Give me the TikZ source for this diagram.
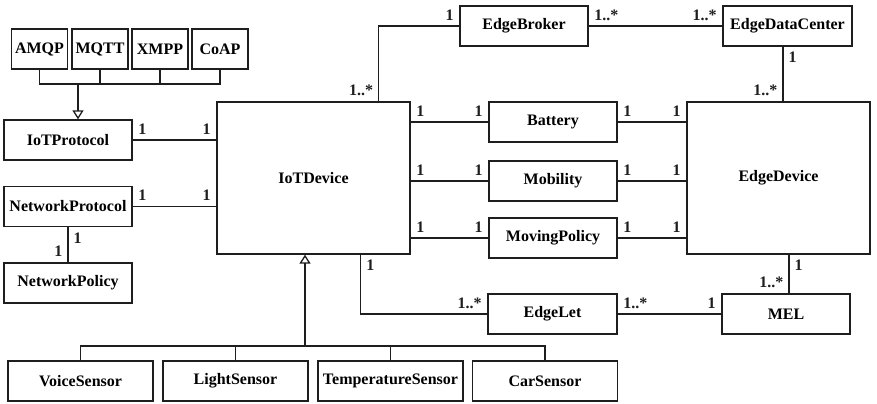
\documentclass[tikz,border=0pt]{standalone}
\usepackage{fontspec}
\setmainfont{Liberation Serif}
\usetikzlibrary{arrows.meta,positioning,calc}
\definecolor{bk90}{HTML}{1E1E1E}
\tikzset{
  classbox/.style={
    rectangle, draw=bk90, fill=white, line width=0.65pt,
    minimum width=#1, minimum height=20pt,
    font=\fontsize{8}{9.6}\selectfont\bfseries, align=center,
    inner sep=0pt
  },
  classbox/.default=64pt,
  assocline/.style={
    draw=bk90, line width=0.65pt
  },
  inheritline/.style={
    draw=bk90, line width=0.65pt,
    -{Triangle[open, length=4.5pt, width=5.5pt]}
  },
  multlabel/.style={
    font=\fontsize{8}{9.6}\selectfont\bfseries, text=bk90,
    inner sep=2.5pt
  },
}
\begin{document}
\begin{tikzpicture}[x=0.5pt, y=-0.5pt]
\useasboundingbox (0,0) rectangle (877,403);

% Protocol classes
\node[classbox=28pt] (amqp) at (39.5,49) {AMQP};
\node[classbox=28pt] (mqtt) at (100,49) {MQTT};
\node[classbox=28pt] (xmpp) at (160,49) {XMPP};
\node[classbox=28pt] (coap) at (220,49) {CoAP};
\node[classbox] (iotprotocol) at (68,140) {IoTProtocol};
\node[classbox] (netprotocol) at (68,206.5) {NetworkProtocol};
\node[classbox] (netpolicy) at (68,283) {NetworkPolicy};

% Devices
\node[classbox=96.5pt, minimum height=76pt] (iotdevice) at (313.5,178) {IoTDevice};
\node[classbox=91.5pt, minimum height=76pt] (edgedevice) at (778.5,178) {EdgeDevice};

% Middle column
\node[classbox] (edgebroker) at (524,26) {EdgeBroker};
\node[classbox=64.5pt] (edgedc) at (787.5,26) {EdgeDataCenter};
\node[classbox] (battery) at (553,122) {Battery};
\node[classbox] (mobility) at (553,181) {Mobility};
\node[classbox] (movingpolicy) at (553,238) {MovingPolicy};
\node[classbox=64.5pt] (edgelet) at (552.5,314) {EdgeLet};
\node[classbox] (mel) at (786,314) {MEL};

% Sensors
\node[classbox=72.5pt] (voice) at (80.5,381) {VoiceSensor};
\node[classbox=72.5pt] (light) at (235.5,381) {LightSensor};
\node[classbox=72.5pt] (temp) at (390.5,381) {TemperatureSensor};
\node[classbox=72.5pt] (car) at (545,381) {CarSensor};

% Inheritance
\coordinate (protobus) at (78,84);
\draw[assocline] (amqp.south) |- (protobus);
\draw[assocline] (mqtt.south) |- (protobus);
\draw[assocline] (xmpp.south) |- (protobus);
\draw[assocline] (coap.south) |- (protobus);
\draw[inheritline] (protobus) -- (protobus |- iotprotocol.north);

\coordinate (sensbus) at (305,346);
\draw[assocline] (voice.north) |- (sensbus);
\draw[assocline] (light.north) |- (sensbus);
\draw[assocline] (temp.north) |- (sensbus);
\draw[assocline] (car.north) |- (sensbus);
\draw[inheritline] (sensbus) -- (sensbus |- iotdevice.south);

% Associations on the left
\draw[assocline] (iotprotocol.east) -- node[multlabel, pos=0, above right] {1}
  node[multlabel, pos=1, above left] {1} (iotprotocol.east -| iotdevice.west);
\draw[assocline] (netprotocol.east) -- node[multlabel, pos=0, above right] {1}
  node[multlabel, pos=1, above left] {1} (netprotocol.east -| iotdevice.west);
\draw[assocline] (netprotocol.south) -- node[multlabel, pos=0, below right] {1}
  node[multlabel, pos=1, above left] {1} (netpolicy.north);

% Associations between the devices
\draw[assocline] (battery.west -| iotdevice.east) -- node[multlabel, pos=0, above right] {1}
  node[multlabel, pos=1, above left] {1} (battery.west);
\draw[assocline] (battery.east) -- node[multlabel, pos=0, above right] {1}
  node[multlabel, pos=1, above left] {1} (battery.east -| edgedevice.west);
\draw[assocline] (mobility.west -| iotdevice.east) -- node[multlabel, pos=0, above right] {1}
  node[multlabel, pos=1, above left] {1} (mobility.west);
\draw[assocline] (mobility.east) -- node[multlabel, pos=0, above right] {1}
  node[multlabel, pos=1, above left] {1} (mobility.east -| edgedevice.west);
\draw[assocline] (movingpolicy.west -| iotdevice.east) -- node[multlabel, pos=0, above right] {1}
  node[multlabel, pos=1, above left] {1} (movingpolicy.west);
\draw[assocline] (movingpolicy.east) -- node[multlabel, pos=0, above right] {1}
  node[multlabel, pos=1, above left] {1} (movingpolicy.east -| edgedevice.west);

% Top and bottom routes
\coordinate (brokerjoint) at ($(iotdevice.north east)+(-32,0)$);
\coordinate (dcjoint) at ($(edgedc.south)+(-4.5,0)$);
\coordinate (letjoint) at ($(iotdevice.south east)+(-50,0)$);
\coordinate (meljoint) at ($(mel.north)+(3,0)$);
\draw[assocline] (brokerjoint) |- node[multlabel, pos=0, above left] {1..*}
  node[multlabel, pos=1, above left] {1} (edgebroker.west);
\draw[assocline] (edgebroker.east) -- node[multlabel, pos=0, above right] {1..*}
  node[multlabel, pos=1, above left] {1..*} (edgedc.west);
\draw[assocline] (dcjoint) -- node[multlabel, pos=0, below right] {1}
  node[multlabel, pos=1, above left] {1..*} (dcjoint |- edgedevice.north);
\draw[assocline] (letjoint) |- node[multlabel, pos=0, below right] {1}
  node[multlabel, pos=1, above left] {1..*} (edgelet.west);
\draw[assocline] (edgelet.east) -- node[multlabel, pos=0, above right] {1..*}
  node[multlabel, pos=1, above left] {1} (mel.west);
\draw[assocline] (meljoint |- edgedevice.south) -- node[multlabel, pos=0, below right] {1}
  node[multlabel, pos=1, above left] {1..*} (meljoint);

\end{tikzpicture}
\end{document}
